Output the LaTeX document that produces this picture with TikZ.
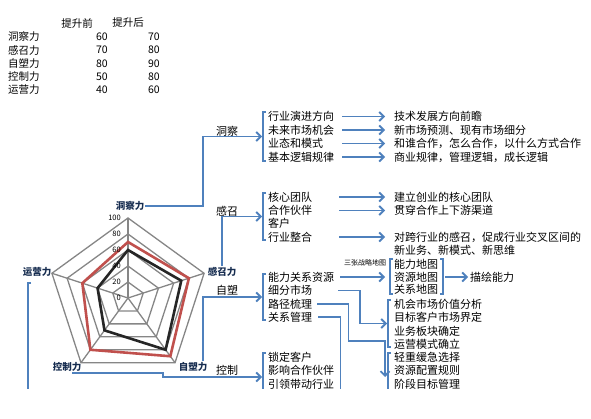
\documentclass[tikz,border=0pt]{standalone}
\usepackage{fontspec}
\setmainfont{Noto Sans CJK SC}
\usetikzlibrary{arrows.meta}
\definecolor{lineblue}{RGB}{79,129,189}
\definecolor{seriesred}{RGB}{192,80,77}
\definecolor{seriesblack}{RGB}{38,38,38}
\definecolor{gridgray}{RGB}{134,134,134}
\definecolor{axisnavy}{RGB}{23,45,80}
\begin{document}
\begin{tikzpicture}[x=1pt,y=-1pt,
  txt/.style={anchor=west,inner sep=0pt,font=\fontsize{11}{12}\selectfont},
  tab/.style={inner sep=0pt,font=\fontsize{10.5}{12}\selectfont},
  axl/.style={inner sep=1pt,text=axisnavy,font=\fontsize{9.5}{10}\selectfont\bfseries},
  num/.style={anchor=east,inner sep=0pt,font=\fontsize{7.5}{8}\selectfont},
  link/.style={draw=lineblue,line width=1.8pt},
  arr/.style={link,-{Straight Barb[length=4.5pt,width=9pt]}},
  brk/.style={draw=lineblue,line width=1.5pt},
  grid/.style={draw=gridgray,line width=1.3pt},
  series/.style={line width=2.6pt,line join=miter}]
\useasboundingbox (0,0) rectangle (591,419);
\begin{scope}
\clip (0,0) rectangle (591,388);
% table
\node[tab] (th1) at (77,23) {提升前};
\node[tab] (th2) at (128,23) {提升后};
\node[tab,anchor=west] (tr1) at (8,37) {洞察力};
\node[tab,anchor=west] (tr2) at (8,50.2) {感召力};
\node[tab,anchor=west] (tr3) at (8,63.5) {自塑力};
\node[tab,anchor=west] (tr4) at (8,76.7) {控制力};
\node[tab,anchor=west] (tr5) at (8,90) {运营力};
\node[tab,anchor=east] (tb1) at (108,37) {60};
\node[tab,anchor=east] (tb2) at (108,50.2) {70};
\node[tab,anchor=east] (tb3) at (108,63.5) {80};
\node[tab,anchor=east] (tb4) at (108,76.7) {50};
\node[tab,anchor=east] (tb5) at (108,90) {40};
\node[tab,anchor=east] (ta1) at (160,37) {70};
\node[tab,anchor=east] (ta2) at (160,50.2) {80};
\node[tab,anchor=east] (ta3) at (160,63.5) {90};
\node[tab,anchor=east] (ta4) at (160,76.7) {80};
\node[tab,anchor=east] (ta5) at (160,90) {60};

% radar chart
\begin{scope}[shift={(128,298)}]
\foreach \r in {16,32,48,64,80}
  \draw[grid] (-90:\r) -- (-18:\r) -- (54:\r) -- (126:\r) -- (198:\r) -- cycle;
\foreach \a in {-90,-18,54,126,198}
  \draw[grid] (0,0) -- (\a:80);
\draw[series,draw=seriesred] (-90:56) -- (-18:64) -- (54:72) -- (126:64) -- (198:48) -- cycle;
\draw[series,draw=seriesblack] (-90:48) -- (-18:56) -- (54:64) -- (126:40) -- (198:32) -- cycle;
\foreach \v [count=\i from 0] in {0,20,40,60,80,100}
  \node[num] (n\i) at (-7,-16*\i) {\v};
\end{scope}
\node[axl] (dc) at (130,206) {洞察力};
\node[axl] (gz) at (222,272) {感召力};
\node[axl] (zs) at (193,367) {自塑力};
\node[axl] (kz) at (67,367) {控制力};
\node[axl] (yy) at (37,272) {运营力};

% group heads
\node[txt,anchor=center] (h1) at (227,131) {洞察};
\node[txt,anchor=center] (h2) at (227,211) {感召};
\node[txt,anchor=center] (h3) at (227,290) {自塑};
\node[txt,anchor=center] (h4) at (227,370) {控制};
\coordinate (b1) at (262,136.5);
\coordinate (b2) at (262,216.5);
\coordinate (b3) at (262,297);
\coordinate (b4) at (262,377);
\coordinate (b5) at (387,323.5);
\coordinate (b6) at (385,377);

% brackets
\foreach \bx/\bt/\bb in {263/112/161,263/193/240,263/274/320,263/353/401,
                         390/259/294,388/300/347,388/353/401}
  \draw[brk] (\bx+3,\bt) -- (\bx,\bt) -- (\bx,\bb) -- (\bx+3,\bb);
\draw[brk] (440,259) -- (443,259) -- (443,294) -- (440,294);

% left items
\node[txt] (a1) at (268,116.5) {行业演进方向};
\node[txt] (a2) at (268,130) {未来市场机会};
\node[txt] (a3) at (268,143.5) {业态和模式};
\node[txt] (a4) at (268,157) {基本逻辑规律};
\node[txt] (c1) at (268,197) {核心团队};
\node[txt] (c2) at (268,210.5) {合作伙伴};
\node[txt] (c3) at (268,223.5) {客户};
\node[txt] (c4) at (268,237) {行业整合};
\node[txt] (s1) at (268,277) {能力关系资源};
\node[txt] (s2) at (268,290.5) {细分市场};
\node[txt] (s3) at (268,304) {路径梳理};
\node[txt] (s4) at (268,317) {关系管理};
\node[txt] (k1) at (268,357) {锁定客户};
\node[txt] (k2) at (268,370.5) {影响合作伙伴};
\node[txt] (k3) at (268,384) {引领带动行业};

% right items
\node[txt] (p1) at (394,116.5) {技术发展方向前瞻};
\node[txt] (p2) at (394,130) {新市场预测、现有市场细分};
\node[txt] (p3) at (394,143.5) {和谁合作，怎么合作，以什么方式合作};
\node[txt] (p4) at (394,157) {商业规律，管理逻辑，成长逻辑};
\node[txt] (q1) at (394,197) {建立创业的核心团队};
\node[txt] (q2) at (394,210.5) {贯穿合作上下游渠道};
\node[txt] (q3) at (394,237) {对跨行业的感召，促成行业交叉区间的};
\node[txt] (q4) at (394,250.5) {新业务、新模式、新思维};
\node[txt] (m1) at (394,264) {能力地图};
\node[txt] (m2) at (394,277) {资源地图};
\node[txt] (m3) at (394,289.5) {关系地图};
\node[txt] (mp) at (470,277) {描绘能力};
\node[inner sep=0pt,font=\fontsize{7}{8}\selectfont] (sm) at (365,263) {三张战略地图};
\node[txt] (t1) at (394,304) {机会市场价值分析};
\node[txt] (t2) at (394,317.5) {目标客户市场界定};
\node[txt] (t3) at (394,331) {业务板块确定};
\node[txt] (t4) at (394,344) {运营模式确立};
\node[txt] (u1) at (394,357) {轻重缓急选择};
\node[txt] (u2) at (394,370.5) {资源配置规则};
\node[txt] (u3) at (394,384) {阶段目标管理};

% radar labels to groups
\draw[arr] (dc.east) -| ([xshift=-59pt]b1) -- (b1);
\draw[arr] (gz.north) |- (b2);
\draw[arr] ([xshift=10pt]zs.north) |- (b3);
\draw[arr] ([xshift=5pt]kz.south) -- ++(91,0) |- (b4);
\draw[link,line width=1.2pt] ([xshift=-6pt,yshift=-11pt]yy.center) -- ++(-3,0) -- ++(0,120);

% item arrows
\foreach \i in {1,...,4}
  \draw[arr] ([xshift=74pt]a\i.west) -- ([xshift=-9pt]p\i.west);
\draw[arr] ([xshift=71pt]c1.west) -- ([xshift=-9pt]q1.west);
\draw[arr] ([xshift=71pt]c2.west) -- ([xshift=-9pt]q2.west);
\draw[arr] ([xshift=71pt]c4.west) -- ([xshift=-9pt]q3.west);
\draw[arr] ([xshift=72pt]s1.west) -- ([xshift=-9pt]m2.west);
\draw[arr] ([xshift=7pt]m2.east) -- ([xshift=-2pt]mp.west);
\draw[arr] ([xshift=70pt]s2.west) -| ([xshift=-27pt]b5) -- (b5);
\draw[arr] ([xshift=5pt]s3.east) -- ++(31,0) -- ++(0,37) -| (b6);
\draw[link] ([xshift=6pt]s4.east) -- ++(22,0) -- ++(0,90);
\end{scope}
\end{tikzpicture}
\end{document}
